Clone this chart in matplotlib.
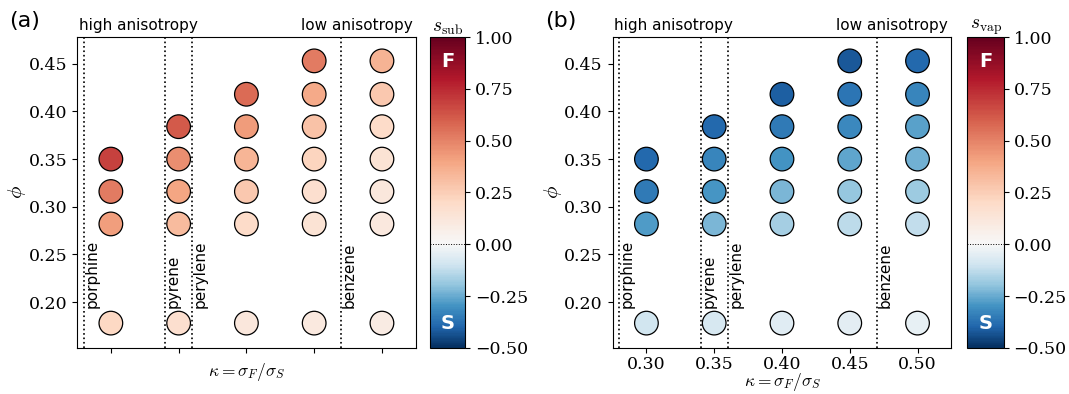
import numpy as np
import matplotlib
matplotlib.use("Agg")
import matplotlib.pyplot as plt
from matplotlib.colors import ListedColormap, Normalize

plt.rcParams['font.family'] = 'DejaVu Serif'
plt.rcParams['mathtext.fontset'] = 'cm'

# grid of simulated state points
kappa_vals = [0.30, 0.35, 0.40, 0.45, 0.50]
phi_cols = [
    [0.178, 0.282, 0.316, 0.350],
    [0.178, 0.282, 0.316, 0.350, 0.384],
    [0.178, 0.282, 0.316, 0.350, 0.384, 0.418],
    [0.178, 0.282, 0.316, 0.350, 0.384, 0.418, 0.453],
    [0.178, 0.282, 0.316, 0.350, 0.384, 0.418, 0.453],
]

# order parameter after sublimation
s_sub = [
    [0.21, 0.42, 0.52, 0.68],
    [0.17, 0.32, 0.40, 0.47, 0.61],
    [0.12, 0.20, 0.27, 0.34, 0.43, 0.57],
    [0.10, 0.15, 0.17, 0.23, 0.30, 0.38, 0.52],
    [0.09, 0.11, 0.12, 0.15, 0.20, 0.27, 0.35],
]

# order parameter after vapour deposition
s_vap = [
    [-0.09, -0.28, -0.35, -0.39],
    [-0.08, -0.23, -0.29, -0.33, -0.39],
    [-0.06, -0.17, -0.23, -0.30, -0.35, -0.41],
    [-0.05, -0.13, -0.19, -0.26, -0.32, -0.36, -0.42],
    [-0.04, -0.12, -0.18, -0.24, -0.27, -0.33, -0.39],
]

molecules = ['porphine', 'pyrene', 'perylene', 'benzene']
mol_kappa = [0.28, 0.34, 0.36, 0.47]

cb_ticks = [-0.5, -0.25, 0.0, 0.25, 0.5, 0.75, 1.0]


def fmt(v):
    return ('%.2f' % v).replace('-', '\u2212')


# RdBu_r squeezed so that white sits at 0 on a -0.5..1 scale
base = plt.get_cmap('RdBu_r')
cmap = ListedColormap(np.vstack([base(np.linspace(0, 0.5, 86)),
                                 base(np.linspace(0.5, 1, 170))]))
norm = Normalize(vmin=-0.5, vmax=1.0)

fig = plt.figure(figsize=(10.69, 3.94), dpi=100)
ax_a = fig.add_axes([0.072, 0.117, 0.317, 0.789])
cax_a = fig.add_axes([0.402, 0.117, 0.033, 0.789])
ax_b = fig.add_axes([0.573, 0.117, 0.317, 0.789])
cax_b = fig.add_axes([0.905, 0.117, 0.034, 0.789])


def draw_panel(ax, cax, values, letter, cb_label, show_xticklabels):
    for k, phis, vals in zip(kappa_vals, phi_cols, values):
        ax.scatter([k] * len(phis), phis, c=vals, cmap=cmap, norm=norm,
                   s=290, edgecolors='k', linewidths=0.9, zorder=3)
    for name, k in zip(molecules, mol_kappa):
        ax.axvline(k, color='k', ls=':', lw=1.2, zorder=1)
        ax.text(k + 0.0005, 0.194, name, rotation=90, ha='left', va='bottom',
                fontsize=11, family='DejaVu Sans')
    ax.set_xlim(0.275, 0.525)
    ax.set_ylim(0.152, 0.478)
    ax.set_xticks(kappa_vals)
    ax.set_yticks([0.20, 0.25, 0.30, 0.35, 0.40, 0.45])
    ax.tick_params(labelsize=12.5)
    ax.tick_params(axis='x', pad=2)
    if show_xticklabels:
        ax.set_xticklabels([fmt(k) for k in kappa_vals])
        ax.set_xlabel(r'$\kappa = \sigma_F/\sigma_S$', fontsize=12.5, labelpad=-1)
    else:
        ax.set_xticklabels([])
        ax.set_xlabel(r'$\kappa = \sigma_F/\sigma_S$', fontsize=12.5, labelpad=4)
    ax.set_yticklabels([fmt(v) for v in ax.get_yticks()])
    ax.set_ylabel(r'$\phi$', fontsize=15, labelpad=0)
    ax.text(0.005, 1.012, 'high anisotropy', transform=ax.transAxes,
            ha='left', va='bottom', fontsize=11, family='DejaVu Sans')
    ax.text(0.99, 1.012, 'low anisotropy', transform=ax.transAxes,
            ha='right', va='bottom', fontsize=11, family='DejaVu Sans')
    ax.text(-0.2, 1.02, letter, transform=ax.transAxes, ha='left',
            va='bottom', fontsize=16, family='DejaVu Sans')

    sm = plt.cm.ScalarMappable(norm=norm, cmap=cmap)
    cb = fig.colorbar(sm, cax=cax)
    cb.set_ticks(cb_ticks)
    cb.set_ticklabels([fmt(t) for t in cb_ticks])
    cb.ax.tick_params(labelsize=12.5)
    cb.ax.axhline(0.0, color='k', ls=':', lw=0.7)
    cb.ax.set_title(cb_label, fontsize=14, pad=2)
    cb.ax.text(0.5, 0.92, 'F', transform=cb.ax.transAxes, ha='center',
               va='center', color='white', fontweight='bold', fontsize=14,
               family='DejaVu Sans')
    cb.ax.text(0.5, 0.08, 'S', transform=cb.ax.transAxes, ha='center',
               va='center', color='white', fontweight='bold', fontsize=14,
               family='DejaVu Sans')


draw_panel(ax_a, cax_a, s_sub, '(a)', r'$s_{\rm sub}$', False)
draw_panel(ax_b, cax_b, s_vap, '(b)', r'$s_{\rm vap}$', True)

fig.savefig('out.png', dpi=100)
